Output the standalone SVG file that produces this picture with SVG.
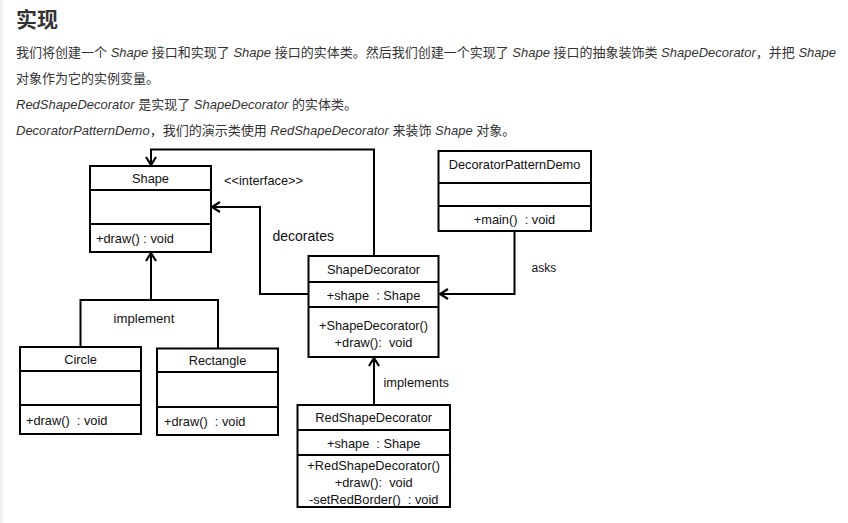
<svg xmlns="http://www.w3.org/2000/svg" width="848" height="523" viewBox="0 0 848 523">
<defs>
<marker id="arr" markerUnits="userSpaceOnUse" markerWidth="14" markerHeight="14" refX="9" refY="6" orient="auto">
<path d="M1,1 L9,6 L1,11" fill="none" stroke="#000" stroke-width="2.2"/>
</marker>
<style>
.page{font-family:"Liberation Sans","Noto Sans CJK SC",sans-serif;font-size:13px;fill:#333}
.it{font-style:italic}
.h{font-family:"Noto Sans CJK SC",sans-serif;font-size:21px;font-weight:bold;fill:#333}
.box{fill:#fff;stroke:#000;stroke-width:2}
.sep{stroke:#000;stroke-width:2}
.t{font-family:"Liberation Sans",Arial,sans-serif;font-size:12.8px;fill:#111;dominant-baseline:central;white-space:pre}
.c{text-anchor:middle}
.lbl{font-family:"Liberation Sans",Arial,sans-serif;fill:#111;dominant-baseline:central}
.ln{fill:none;stroke:#000;stroke-width:2}
</style>
</defs>
<rect x="0" y="0" width="848" height="523" fill="#fff"/>
<rect x="0" y="0" width="3" height="523" fill="#f2f2f2"/>
<g id="text">
<text class="h" x="16" y="27">实现</text>
<text class="page" x="16" y="57">我们将创建一个 <tspan class="it">Shape</tspan> 接口和实现了 <tspan class="it">Shape</tspan> 接口的实体类。然后我们创建一个实现了 <tspan class="it">Shape</tspan> 接口的抽象装饰类 <tspan class="it">ShapeDecorator</tspan>，并把 <tspan class="it">Shape</tspan></text>
<text class="page" x="16" y="83">对象作为它的实例变量。</text>
<text class="page" x="16" y="109"><tspan class="it">RedShapeDecorator</tspan> 是实现了 <tspan class="it">ShapeDecorator</tspan> 的实体类。</text>
<text class="page" x="16" y="135"><tspan class="it">DecoratorPatternDemo</tspan>，我们的演示类使用 <tspan class="it">RedShapeDecorator</tspan> 来装饰 <tspan class="it">Shape</tspan> 对象。</text>
</g>
<g id="connectors">
<polyline class="ln" points="374,256 374,149.5 151,149.5 151,165" marker-end="url(#arr)"/>
<polyline class="ln" points="308,294 260,294 260,207 212,207" marker-end="url(#arr)"/>
<polyline class="ln" points="514.5,231 514.5,294 440,294" marker-end="url(#arr)"/>
<polyline class="ln" points="374,405 374,358" marker-end="url(#arr)"/>
<polyline class="ln" points="80.5,347 80.5,300 218,300 218,348.5"/>
<polyline class="ln" points="151,300 151,253" marker-end="url(#arr)"/>
<text class="lbl" x="224" y="180" font-size="12.8">&lt;&lt;interface&gt;&gt;</text>
<text class="lbl" x="272.5" y="236" font-size="14">decorates</text>
<text class="lbl" x="531.5" y="268" font-size="12">asks</text>
<text class="lbl" x="383.5" y="382.5" font-size="12.8">implements</text>
<text class="lbl" x="113.5" y="318.5" font-size="13.2">implement</text>
</g>
<g id="Shape">
<rect class="box" x="90" y="166" width="121" height="86"/>
<line class="sep" x1="90" y1="190" x2="211" y2="190"/>
<line class="sep" x1="90" y1="224" x2="211" y2="224"/>
<text class="t c" x="150.5" y="178">Shape</text>
<text class="t" x="96" y="238.5">+draw() : void</text>
</g>
<g id="DecoratorPatternDemo">
<rect class="box" x="438.5" y="151" width="152.5" height="80"/>
<line class="sep" x1="438.5" y1="183" x2="591" y2="183"/>
<line class="sep" x1="438.5" y1="206" x2="591" y2="206"/>
<text class="t c" x="514.5" y="164">DecoratorPatternDemo</text>
<text class="t c" x="514.5" y="219" xml:space="preserve">+main()  : void</text>
</g>
<g id="ShapeDecorator">
<rect class="box" x="308.5" y="256" width="130" height="101"/>
<line class="sep" x1="308.5" y1="282" x2="438.5" y2="282"/>
<line class="sep" x1="308.5" y1="307" x2="438.5" y2="307"/>
<text class="t c" x="373.5" y="269">ShapeDecorator</text>
<text class="t c" x="373.5" y="295" xml:space="preserve">+shape  : Shape</text>
<text class="t c" x="373.5" y="325">+ShapeDecorator()</text>
<text class="t c" x="373.5" y="342" xml:space="preserve">+draw():  void</text>
</g>
<g id="RedShapeDecorator">
<rect class="box" x="297.5" y="405" width="152.5" height="102"/>
<line class="sep" x1="297.5" y1="430" x2="450" y2="430"/>
<line class="sep" x1="297.5" y1="455" x2="450" y2="455"/>
<text class="t c" x="373.7" y="417.5">RedShapeDecorator</text>
<text class="t c" x="373.7" y="443.5" xml:space="preserve">+shape  : Shape</text>
<text class="t c" x="373.7" y="465">+RedShapeDecorator()</text>
<text class="t c" x="373.7" y="482" xml:space="preserve">+draw():  void</text>
<text class="t c" x="373.7" y="499" xml:space="preserve">-setRedBorder()  : void</text>
</g>
<g id="Circle">
<rect class="box" x="20" y="347" width="121" height="87"/>
<line class="sep" x1="20" y1="371" x2="141" y2="371"/>
<line class="sep" x1="20" y1="405" x2="141" y2="405"/>
<text class="t c" x="80.5" y="359.5">Circle</text>
<text class="t" x="26" y="420.5" xml:space="preserve">+draw()  : void</text>
</g>
<g id="Rectangle">
<rect class="box" x="157" y="348.5" width="121" height="86.5"/>
<line class="sep" x1="157" y1="372" x2="278" y2="372"/>
<line class="sep" x1="157" y1="407" x2="278" y2="407"/>
<text class="t c" x="217.5" y="360.5">Rectangle</text>
<text class="t" x="164" y="421.5" xml:space="preserve">+draw()  : void</text>
</g>
</svg>
